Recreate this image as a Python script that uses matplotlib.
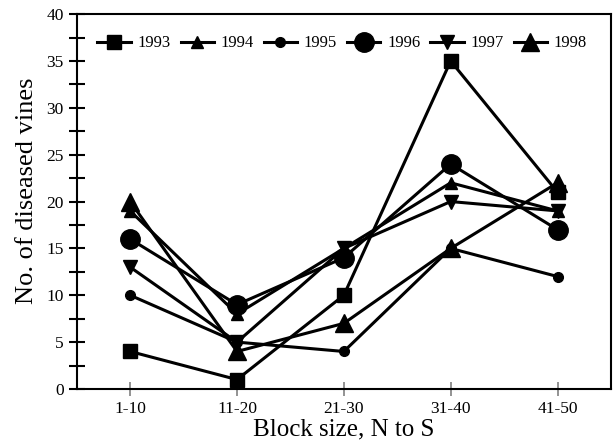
import matplotlib.pyplot as plt
from matplotlib.ticker import MultipleLocator

plt.rcParams['font.family'] = ['Liberation Serif', 'DejaVu Serif']

blocks = ['1-10', '11-20', '21-30', '31-40', '41-50']
years = ['1993', '1994', '1995', '1996', '1997', '1998']
v1993 = [4, 1, 10, 35, 21]
v1994 = [19, 8, 15, 22, 19]
v1995 = [10, 5, 4, 15, 12]
v1996 = [16, 9, 14, 24, 17]
v1997 = [13, 5, 15, 20, 19]
v1998 = [20, 4, 7, 15, 22]

series = [v1993, v1994, v1995, v1996, v1997, v1998]
markers = ['s', '^', 'o', 'o', 'v', '^']
sizes = [10, 8, 7, 14, 10, 13]

fig = plt.figure(figsize=(6.14, 4.42), dpi=100)
ax = fig.add_axes([0.125, 0.12, 0.87, 0.848])

x = range(len(blocks))
for yr, vals, m, s in zip(years, series, markers, sizes):
    ax.plot(x, vals, color='black', lw=2.2, marker=m, ms=s, label=yr)

ax.set_xlim(-0.5, 4.5)
ax.set_ylim(0, 40)
ax.set_xticks(list(x))
ax.set_xticklabels(blocks)
ax.yaxis.set_major_locator(MultipleLocator(5))
ax.yaxis.set_minor_locator(MultipleLocator(2.5))
ax.tick_params(axis='y', which='both', direction='inout', length=12, width=1.5, labelsize=12.5)
ax.tick_params(axis='x', direction='inout', length=10, width=1.2, color='gray', labelsize=12.5)
for sp in ax.spines.values():
    sp.set_linewidth(1.5)

ax.set_xlabel('Block size, N to S', fontsize=18, labelpad=1)
ax.set_ylabel('No. of diseased vines', fontsize=19)
ax.yaxis.set_label_coords(-0.072, 0.53)

ax.legend(loc='upper left', ncol=6, frameon=False, fontsize=12,
          bbox_to_anchor=(0.02, 0.97), handlelength=2.0, handletextpad=0.4,
          columnspacing=0.6, borderaxespad=0.2)

fig.savefig('out.png', dpi=100)
